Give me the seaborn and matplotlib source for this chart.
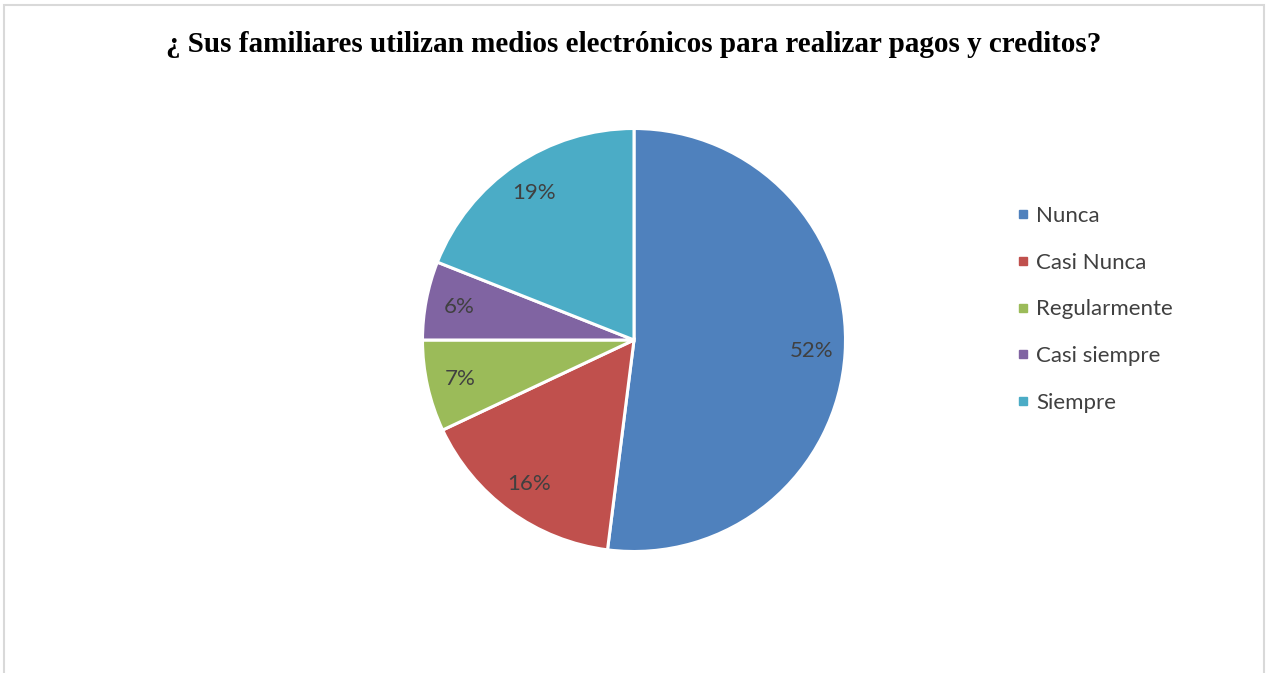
import matplotlib
matplotlib.use("Agg")
import matplotlib.pyplot as plt
import seaborn as sns
from matplotlib.lines import Line2D
from matplotlib.patches import Rectangle

# datos
categorias = ['Nunca', 'Casi Nunca', 'Regularmente', 'Casi siempre', 'Siempre']
porcentajes = [52, 16, 7, 6, 19]
colores = ['#4F81BD', '#C0504D', '#9BBB59', '#8064A2', '#4BACC6']
titulo = '¿ Sus familiares utilizan medios electrónicos para realizar pagos y creditos?'

sns.set_theme(style='white')
plt.rcParams['font.family'] = ['Lato', 'DejaVu Sans']
paleta = sns.color_palette(colores)

W, H = 1267, 673
fig = plt.figure(figsize=(W / 100, H / 100), dpi=100)

# marco del grafico
fig.patches.append(Rectangle((4 / W, -0.05), (1264 - 4) / W, (H - 5) / H + 0.05,
                             transform=fig.transFigure, fill=False,
                             edgecolor='#D9D9D9', linewidth=1.5))

cx, cy, r = 634, 340, 211.5
ax = fig.add_axes([(cx - r) / W, (H - cy - r) / H, 2 * r / W, 2 * r / H])
wedges, textos, autotextos = ax.pie(
    porcentajes, colors=paleta, startangle=90, counterclock=False,
    autopct='%1.0f%%', pctdistance=0.84, radius=1,
    wedgeprops=dict(edgecolor='white', linewidth=2.2),
    textprops=dict(color='#404040', fontsize=16))
ax.set_xlim(-1, 1)
ax.set_ylim(-1, 1)
ax.set_aspect('equal')
ax.axis('off')

fig.text(cx / W, 1 - 45 / H, titulo, ha='center', va='center',
         fontsize=21, fontweight='bold', family=['Liberation Serif', 'DejaVu Serif'],
         color='black')

handles = [Line2D([0], [0], marker='s', linestyle='none', markersize=6,
                  markerfacecolor=c, markeredgecolor=c) for c in paleta]
fig.legend(handles, categorias, loc='upper left',
           bbox_to_anchor=(996 / W, 1 - 186 / H), frameon=False,
           fontsize=16, labelcolor='#404040', handlelength=0.6,
           handletextpad=0.3, labelspacing=1.2)

fig.savefig('out.png', dpi=100)
